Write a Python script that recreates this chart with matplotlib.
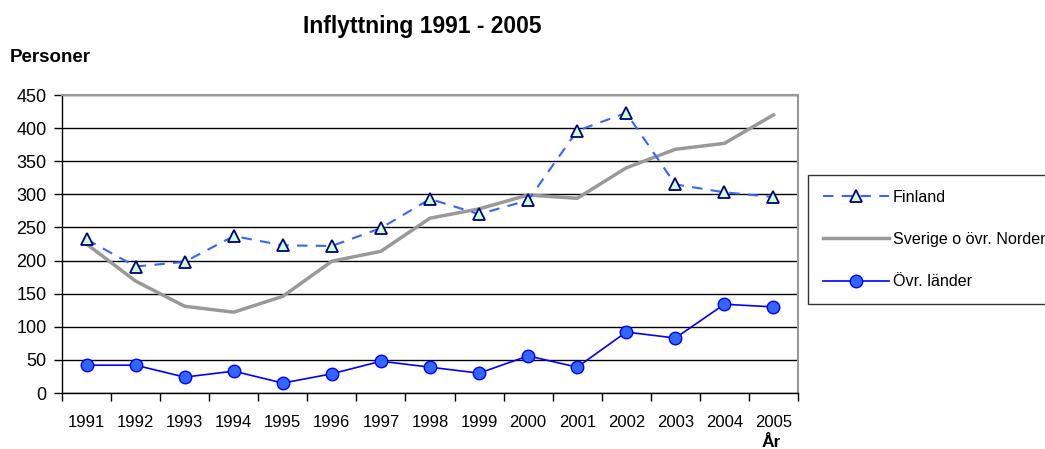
import matplotlib
matplotlib.use("Agg")
import matplotlib.pyplot as plt
import numpy as np

years = [str(y) for y in range(1991, 2006)]
finland = [232, 191, 198, 237, 223, 222, 249, 293, 270, 291, 396, 423, 315, 303, 296]
sverige = [225, 169, 131, 122, 146, 199, 214, 264, 278, 299, 294, 340, 368, 377, 420]
ovr = [42, 42, 24, 33, 15, 29, 48, 39, 30, 56, 39, 92, 83, 134, 130]
yticks = list(range(0, 451, 50))

plt.rcParams['font.family'] = ['Liberation Sans', 'DejaVu Sans']

fig = plt.figure(figsize=(10.45, 4.49), dpi=100)
ax = fig.add_axes([62/1045, 56/449, (798-62)/1045, (393-95)/449])

x = np.arange(len(years))
ax.plot(x, finland, linestyle=(0, (5, 4)), color='#3366ff', linewidth=1.5,
        marker='^', markersize=9, markerfacecolor='#ccffcc', markeredgecolor='#000080',
        markeredgewidth=1.3, label='Finland', zorder=4)
ax.plot(x, sverige, color='#999999', linewidth=2.5, label='Sverige o övr. Norden', zorder=3)
ax.plot(x, ovr, color='#0000ff', linewidth=1.2, marker='o', markersize=9,
        markerfacecolor='#3366ff', markeredgecolor='#0000ff', markeredgewidth=1,
        label='Övr. länder', zorder=4)

ax.set_xlim(-0.5, len(years) - 0.5)
ax.set_ylim(0, 450)
ax.set_yticks(yticks)
ax.set_yticklabels([str(v) for v in yticks], fontsize=13)
ax.set_xticks(x)
ax.set_xticklabels(years, fontsize=12)
ax.tick_params(axis='x', which='major', length=0, pad=16)
ax.set_xticks(np.arange(-0.5, len(years), 1), minor=True)
ax.tick_params(axis='x', which='minor', length=6, width=1, color='black', direction='out')
ax.tick_params(axis='y', length=6, width=1, direction='out', pad=5)
ax.grid(axis='y', color='black', linewidth=1)
ax.set_axisbelow(True)
for s in ['top', 'right']:
    ax.spines[s].set_color('#999999')
    ax.spines[s].set_linewidth(1.5)
for s in ['left', 'bottom']:
    ax.spines[s].set_color('black')
    ax.spines[s].set_linewidth(1)

fig.text(422/1045, 1 - 33/449, 'Inflyttning 1991 - 2005', fontsize=16.5, fontweight='bold',
         ha='center', va='baseline')
fig.text(10/1045, 1 - 62/449, 'Personer', fontsize=13.5, fontweight='bold', ha='left', va='baseline')
fig.text(771/1045, 1 - 447/449, 'År', fontsize=12.5, fontweight='bold', ha='center', va='baseline')

leg = fig.legend(loc='upper left', bbox_to_anchor=(808/1045, 1 - 175/449), fontsize=11.6,
                 frameon=True, fancybox=False, shadow=False, edgecolor='black',
                 handlelength=4.1, labelspacing=1.7, borderpad=0.9, handletextpad=0.25,
                 borderaxespad=0)
leg.get_frame().set_linewidth(1)

fig.savefig('out.png', dpi=100)
